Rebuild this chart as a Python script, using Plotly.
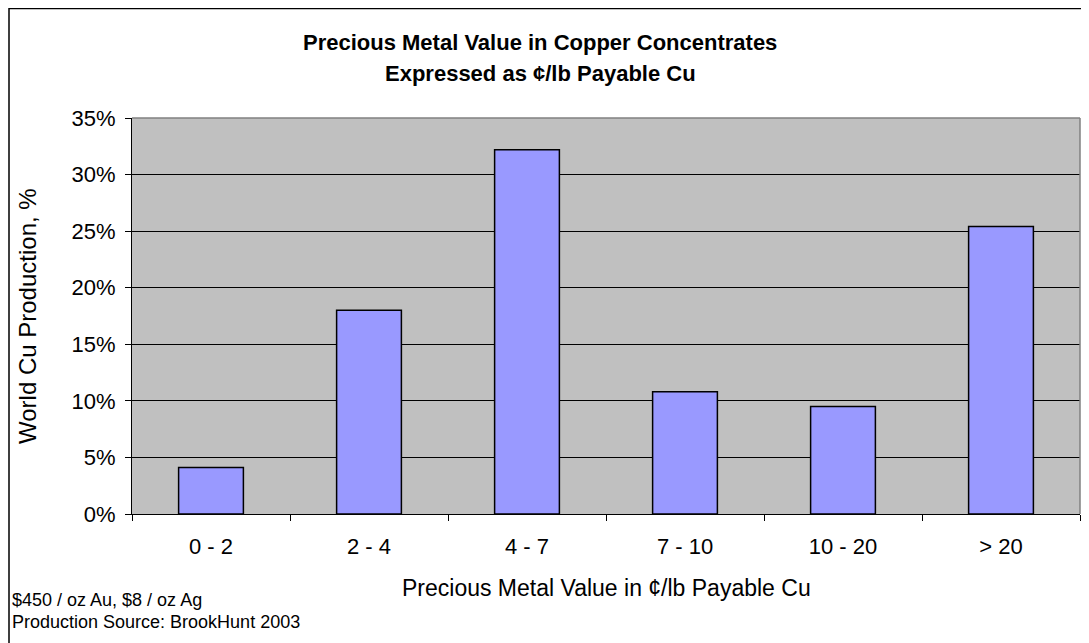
import plotly.graph_objects as go

categories = ["0 - 2", "2 - 4", "4 - 7", "7 - 10", "10 - 20", "> 20"]
production_pct = [4.1, 18.0, 32.2, 10.8, 9.5, 25.4]
y_ticks = [0, 5, 10, 15, 20, 25, 30, 35]
y_tick_labels = [f"{v}%" for v in y_ticks]

W, H = 1089, 643
L, R, T, B = 124, 17, 110, 137
PW, PH = W - L - R, H - T - B


def px(x):
    return (x - L) / PW


def py(y):
    return (H - B - y) / PH


font = "Liberation Sans, Arial, sans-serif"

fig = go.Figure()
fig.add_trace(go.Bar(
    x=categories, y=production_pct,
    width=0.41,
    marker=dict(color="#9999FF", line=dict(color="black", width=1.5)),
    hoverinfo="x+y",
))

fig.update_layout(
    width=W, height=H,
    margin=dict(l=L, r=R, t=T, b=B, autoexpand=False),
    paper_bgcolor="white",
    plot_bgcolor="#C0C0C0",
    showlegend=False,
    font=dict(family=font, color="black", size=22),
    xaxis=dict(
        type="category",
        tickson="boundaries",
        ticks="outside", ticklen=6, tickcolor="black", tickwidth=1,
        showline=True, linecolor="black", linewidth=1,
        showgrid=False,
        tickfont=dict(size=22),
        ticklabelstandoff=13,
    ),
    yaxis=dict(
        range=[0, 35],
        tickvals=y_ticks, ticktext=y_tick_labels,
        ticks="outside", ticklen=6, tickcolor="black", tickwidth=1,
        showline=True, linecolor="black", linewidth=1,
        showgrid=True, gridcolor="black", gridwidth=1,
        zeroline=False,
        tickfont=dict(size=22),
        ticklabelstandoff=5,
    ),
    annotations=[
        dict(text="<b>Precious Metal Value in Copper Concentrates</b>",
             xref="paper", yref="paper", x=px(532), y=py(35),
             xanchor="center", yanchor="middle", showarrow=False,
             font=dict(size=22)),
        dict(text="<b>Expressed as ¢/lb Payable Cu</b>",
             xref="paper", yref="paper", x=px(532), y=py(65),
             xanchor="center", yanchor="middle", showarrow=False,
             font=dict(size=22)),
        dict(text="Precious Metal Value in ¢/lb Payable Cu",
             xref="paper", yref="paper", x=0.5, y=py(580),
             xanchor="center", yanchor="middle", showarrow=False,
             font=dict(size=23)),
        dict(text="World Cu Production, %",
             xref="paper", yref="paper", x=px(19), y=0.5, textangle=-90,
             xanchor="center", yanchor="middle", showarrow=False,
             font=dict(size=24)),
        dict(text="$450 / oz Au, $8 / oz Ag",
             xref="paper", yref="paper", x=px(2), y=py(592),
             xanchor="left", yanchor="middle", showarrow=False,
             font=dict(size=18)),
        dict(text="Production Source: BrookHunt 2003",
             xref="paper", yref="paper", x=px(2), y=py(614),
             xanchor="left", yanchor="middle", showarrow=False,
             font=dict(size=18)),
    ],
    shapes=[
        dict(type="line", xref="paper", yref="paper", x0=0, x1=1, y0=1, y1=1,
             line=dict(color="#808080", width=1.5), layer="above"),
        dict(type="line", xref="paper", yref="paper", x0=1, x1=1, y0=0, y1=1,
             line=dict(color="#808080", width=1.5), layer="above"),
        dict(type="rect", xref="paper", yref="paper",
             x0=px(1), x1=px(W + 20), y0=py(H + 20), y1=py(0.5),
             line=dict(color="black", width=1.5), layer="above"),
    ],
)

fig.write_html("out.html")
